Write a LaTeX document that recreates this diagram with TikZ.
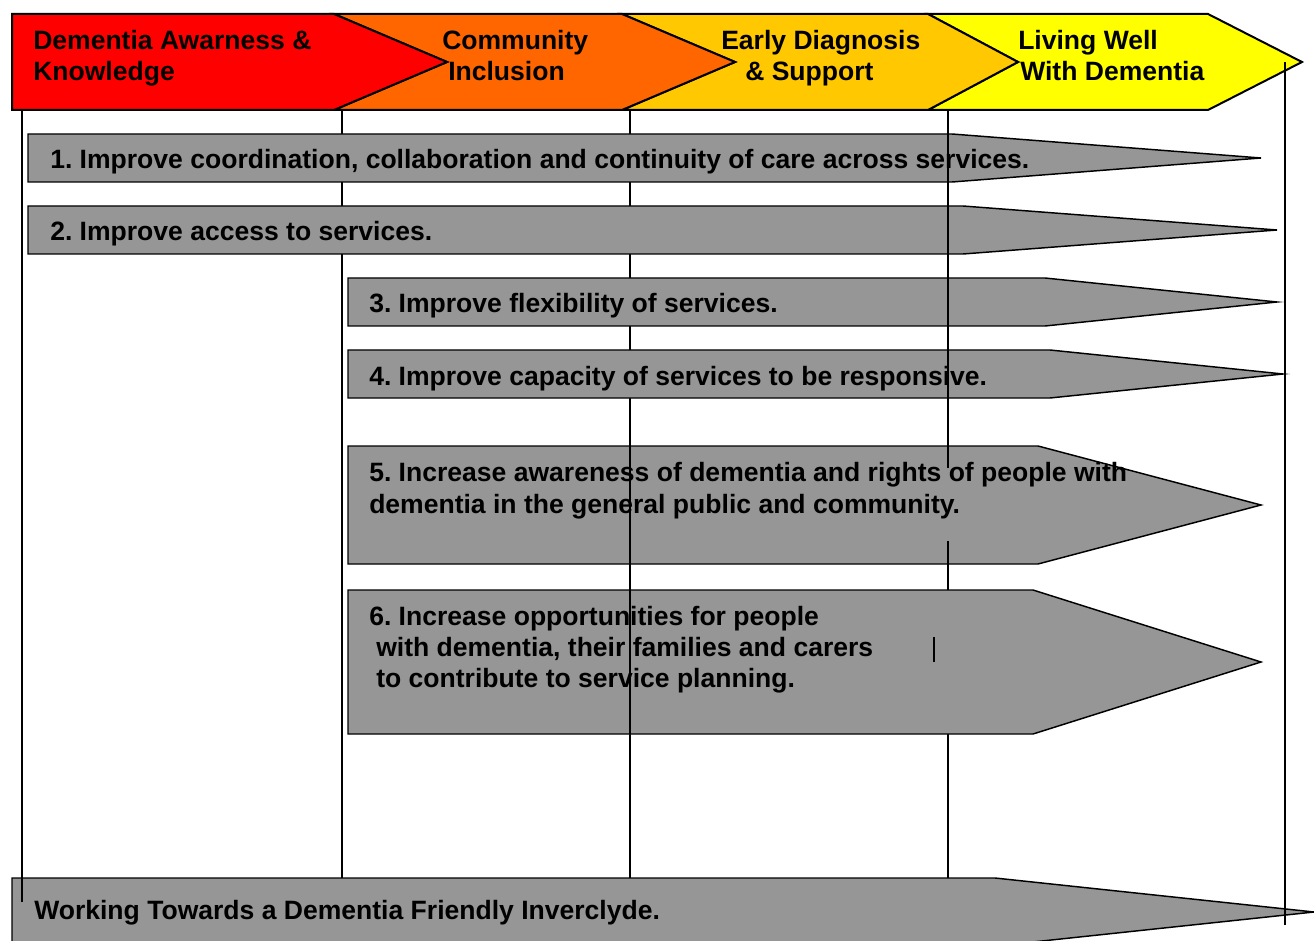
\documentclass[tikz,border=0pt]{standalone}
\usepackage{fontspec}
\setmainfont{Liberation Sans}
\frenchspacing
\definecolor{cRed}{HTML}{FF0000}
\definecolor{cOrange}{HTML}{FF6600}
\definecolor{cAmber}{HTML}{FFC800}
\definecolor{cYellow}{HTML}{FFFF00}
\definecolor{cGray}{HTML}{969696}
\begin{document}
\begin{tikzpicture}[x=0.75pt,y=-0.75pt,
  hdr/.style={draw=black,line width=1.5pt,line join=miter},
  garrow/.style={draw=black,fill=cGray,line width=1.1pt,line join=miter},
  vline/.style={draw=black,line width=1.1pt},
  lbl/.style={anchor=base west,inner sep=0pt,font=\fontsize{19.9}{23.25}\selectfont\bfseries\frenchspacing}]
\useasboundingbox (0,0) rectangle (1314,941);
\clip (0,0) rectangle (1314,941);
% header chevrons
\path[hdr,fill=cYellow] (928,14) -- (1208,14) -- (1302,62) -- (1208,110) -- (928,110) -- (1018,62) -- cycle;
\path[hdr,fill=cAmber] (622,14) -- (928,14) -- (1018,62) -- (928,110) -- (622,110) -- (735,62) -- cycle;
\path[hdr,fill=cOrange] (334,14) -- (622,14) -- (735,62) -- (622,110) -- (334,110) -- (447,62) -- cycle;
\path[hdr,fill=cRed] (12,14) -- (334,14) -- (447,62) -- (334,110) -- (12,110) -- cycle;
% vertical lines (behind)
\path[vline] (22,110) -- (22,902);
\path[vline] (342,110) -- (342,878);
\path[vline] (630,110) -- (630,878);
\path[vline] (948,110) -- (948,468);
\path[vline] (948,541) -- (948,590);
\path[vline] (948,734) -- (948,878);
% grey arrows
\path[garrow] (28,134) -- (952,134) -- (1261,158) -- (952,182) -- (28,182) -- cycle;
\path[garrow] (28,206) -- (963,206) -- (1277,230) -- (963,254) -- (28,254) -- cycle;
\path[garrow] (348,278) -- (1045,278) -- (1277,302) -- (1045,326) -- (348,326) -- cycle;
\path[garrow] (348,350) -- (1050,350) -- (1283,374) -- (1050,398) -- (348,398) -- cycle;
\path[garrow] (348,446) -- (1038,446) -- (1261,505) -- (1038,564) -- (348,564) -- cycle;
\path[garrow] (348,590) -- (1033,590) -- (1261,662) -- (1033,734) -- (348,734) -- cycle;
\path[garrow] (12,878) -- (995,878) -- (1314,912) -- (995,946) -- (12,946) -- cycle;
% vertical segments on top
\path[vline] (630,446) -- (630,734);
\path[vline] (948,110) -- (948,468);
\path[vline] (948,541) -- (948,590);
\path[vline] (934,637) -- (934,662);
\path[vline] (22,870) -- (22,902);
\path[vline] (1285,62) -- (1285,925);
% header labels
\node[lbl] (h1a) at (33,50) {Dementia Awarness \&};
\node[lbl] (h1b) at (33,81) {Knowledge};
\node[lbl] (h2a) at (442,50) {Community};
\node[lbl] (h2b) at (448,81) {Inclusion};
\node[lbl] (h3a) at (721,50) {Early Diagnosis};
\node[lbl] (h3b) at (745,81) {\& Support};
\node[lbl] (h4a) at (1018,50) {Living Well};
\node[lbl] (h4b) at (1020,81) {With Dementia};
% arrow labels
\node[lbl] (t1) at (50,169) {1. Improve coordination, collaboration and continuity of care across services.};
\node[lbl] (t2) at (50,241) {2. Improve access to services.};
\node[lbl] (t3) at (369,313) {3. Improve flexibility of services.};
\node[lbl] (t4) at (369,385) {4. Improve capacity of services to be responsive.};
\node[lbl] (t5a) at (369,481) {5. Increase awareness of dementia and rights of people with};
\node[lbl] (t5b) at (369,513) {dementia in the general public and community.};
\node[lbl] (t6a) at (369,625) {6. Increase opportunities for people};
\node[lbl] (t6b) at (376,656) {with dementia, their families and carers};
\node[lbl] (t6c) at (376,687) {to contribute to service planning.};
\node[lbl] (tb) at (34,919) {Working Towards a Dementia Friendly Inverclyde.};
\end{tikzpicture}
\end{document}
